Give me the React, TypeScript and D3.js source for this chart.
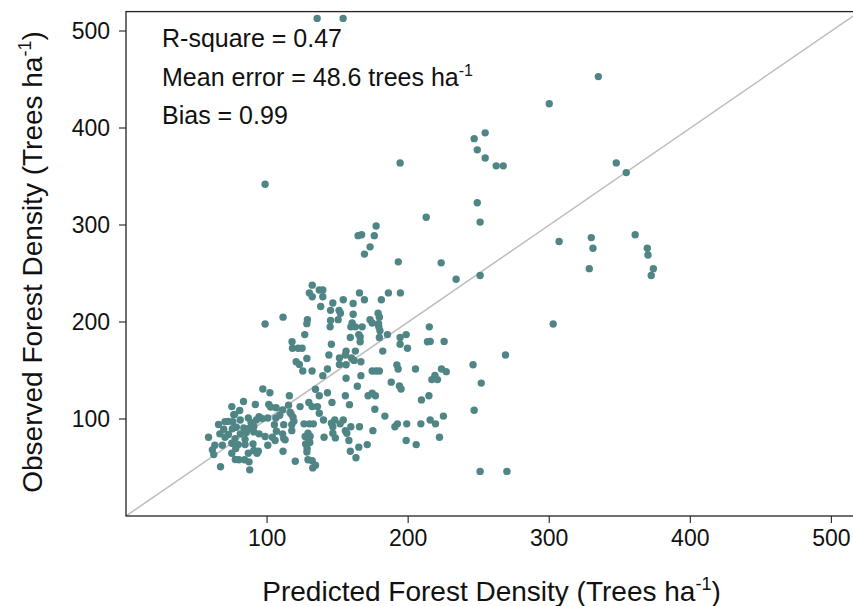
import React from "react";
import * as d3 from "d3";

// [predicted, observed] pairs (trees/ha)
const highPoints: [number, number][] = [
  [135.5, 513], [153.9, 513], [300, 425], [334.8, 453], [246.8, 389], [254.6, 395],
  [249, 377.5], [254.6, 369], [262.4, 361], [267.4, 361], [194.3, 364], [347.5, 364],
  [354.6, 354], [98.6, 342], [249, 323], [251, 303], [212.8, 308], [164.5, 289],
  [167, 290], [173, 277.5], [176, 289], [169, 270], [193, 262], [223.4, 261],
  [234, 244], [177.3, 299], [251, 248], [307, 283], [329.8, 287], [331, 276],
  [328.4, 255], [360.9, 290], [369.5, 276], [370, 269], [373.8, 255], [372.3, 248],
  [302.8, 198], [269, 166], [246.8, 109], [251.8, 137], [246, 156], [251, 46], [270, 46],
];

const midPoints: [number, number][] = [
  [132, 238], [130, 230], [137, 233], [139.5, 233], [132, 226], [139.5, 226], [165.5, 230],
  [186, 230], [194.5, 230], [154, 223], [169, 223], [181, 223], [146.6, 219.6], [161, 219],
  [138, 216], [145, 212], [151, 212], [152, 209], [161, 208], [178.7, 209], [179.6, 205],
  [111.3, 205], [98.6, 198], [145, 201.6], [150.4, 202.4], [173, 202.4], [128.6, 202.4],
  [128.2, 198.3], [160.3, 199], [174.5, 199], [179, 198.3], [144.7, 195], [159.4, 195],
  [162.6, 195], [167.4, 195], [179.2, 195], [180, 191], [126.7, 187], [165, 187],
  [185.3, 187], [198.6, 187], [215, 195], [215.6, 180], [225.5, 180], [159, 184],
  [166, 184.6], [179.6, 184], [194.3, 184], [166, 179.7], [213.7, 179.7], [194.3, 177],
  [117.7, 179.7], [145.6, 177], [118, 173], [122, 173], [124.8, 173], [156, 170],
  [162.6, 170], [182, 170], [199.5, 173], [155.5, 166], [143.8, 166], [128.2, 162.5],
  [151.3, 163], [159.8, 163], [161.7, 160.4], [166.5, 159], [120.6, 159], [122.9, 156.3],
  [151.3, 156.3], [156, 156], [192, 155.7], [192.9, 151.6], [125.3, 149.5], [131.9, 149.5],
  [142.8, 151.6], [174.5, 149.5], [177.3, 149.5], [179.6, 149.5], [205.2, 151.6],
  [223.6, 151.6], [227, 148.8], [219, 145], [220.8, 140.6], [216.8, 140.6], [139.5, 144.7],
  [156, 142], [166.5, 144.7], [188, 138], [193.8, 134], [195, 131],
];

const lowPoints: [number, number][] = [
  [164, 133.7], [134.3, 130.6], [142.8, 127], [137, 124], [155.5, 124], [171.6, 124],
  [174.5, 126.5], [176.8, 124], [209.4, 119.7], [214.7, 124], [129.6, 117], [131.9, 112.8],
  [135.7, 112.8], [123.4, 112.8], [146, 117], [158.4, 114.8], [176.4, 110], [183.5, 103],
  [225, 103], [140, 99], [148, 99], [154, 99], [126.2, 95], [130, 95], [132.8, 95],
  [145.6, 95.6], [146.6, 92], [151.8, 95], [159.4, 92], [165.5, 92], [192.4, 95],
  [190.6, 92], [199, 95], [209, 95], [215.6, 99], [219.4, 95], [175, 88], [155.5, 88],
  [156.5, 85.3], [129, 85.3], [130.5, 82.3], [140.4, 81.2], [146.6, 85.3], [148.4, 80.5],
  [129.6, 78.5], [158, 77.8], [222.2, 81.2], [127.7, 73.6], [198.6, 77.8], [205.7, 73.6],
  [171, 73.6], [165, 71], [128.2, 66], [159, 66.7], [129, 58], [132, 57], [163, 60],
  [134.3, 52.3], [132.4, 49.6],
];

const clusterPoints: [number, number][] = [
  [97, 131], [102, 127], [115.8, 124], [83.3, 118], [75, 112.8], [91.7, 115], [101.2, 115],
  [102.5, 112.3], [106.4, 111.7], [115.2, 114.3], [80.6, 108.7], [111, 109.4], [116.3, 107],
  [76.4, 104.5], [86.7, 101], [94.3, 102.5], [109, 103.8], [117, 105.3], [118.4, 101.8],
  [137, 106], [65.6, 94.4], [72.6, 97.6], [81, 99], [88.7, 96.3], [92.4, 99], [96.7, 100.4],
  [100.5, 101], [106.2, 101], [119, 97.6], [69.3, 89.4], [75.4, 90], [78.2, 91.5],
  [83.5, 90.8], [87.7, 90.8], [90.6, 92.2], [105.2, 94.2], [111.8, 94.2], [117.5, 94.2],
  [66.5, 84.7], [72.6, 84], [81, 84.7], [85.3, 86], [90.6, 86.7], [94.3, 84.7], [106.6, 87.3],
  [111, 84.7], [117.5, 88], [58.5, 81.2], [70.2, 81.2], [77.3, 79.8], [84.4, 79], [98.6, 82],
  [103.8, 81.2], [111.8, 79.8], [127, 82], [63, 73], [68.3, 73], [75, 75], [79.6, 73.6],
  [84.4, 73.6], [90, 74.4], [100.5, 73], [105.7, 77.8], [112.8, 78.5], [127.4, 74.4],
  [130.3, 75.7], [61.2, 68.2], [77.8, 69.5], [90.6, 67.5], [93.8, 66.7], [111.3, 66.7],
  [128.4, 69.5], [62.2, 63.3], [75, 64.7], [86.7, 64.7], [92.9, 64.7], [80, 58], [84, 58],
  [87.2, 55.8], [120, 56.4], [67, 50.8], [87.7, 47.6], [70.2, 97.3], [75.7, 97.3],
  [77, 104.8], [77.5, 58.2],
];

const xTicks = [100, 200, 300, 400, 500];
const yTicks = [100, 200, 300, 400, 500];
const axisDomain = [0, 520];
const statLines = ["R-square = 0.47", "Mean error = 48.6 trees ha", "Bias = 0.99"];

const FONT = "'Liberation Sans', Arial, Helvetica, sans-serif";
const DOT = "#508585";

export default function App() {
  const W = 853;
  const H = 606;
  const x = d3.scaleLinear().domain(axisDomain).range([126, 859.6]);
  const y = d3.scaleLinear().domain(axisDomain).range([516, 11.6]);
  const all = [...highPoints, ...midPoints, ...lowPoints, ...clusterPoints];
  const x0 = x(axisDomain[0]);
  const x1 = x(axisDomain[1]);
  const y0 = y(axisDomain[0]);
  const y1 = y(axisDomain[1]);

  return (
    <svg
      width={W}
      height={H}
      style={{ position: "absolute", left: 0, top: 0, background: "#fff" }}
      fontFamily={FONT}
    >
      <defs>
        <clipPath id="plot">
          <rect x={x0} y={y1} width={x1 - x0} height={y0 - y1} />
        </clipPath>
      </defs>
      <rect x={0} y={0} width={W} height={H} fill="#fff" />
      <g clipPath="url(#plot)">
        <line x1={x(0)} y1={y(0)} x2={x(520)} y2={y(520)} stroke="#bdbdbd" strokeWidth={1.5} />
        {all.map((d, i) => (
          <circle key={i} cx={x(d[0])} cy={y(d[1])} r={3.7} fill={DOT} />
        ))}
      </g>
      <rect x={x0} y={y1} width={x1 - x0} height={y0 - y1} fill="none" stroke="#222" strokeWidth={1.3} />
      {yTicks.map((t) => (
        <g key={"y" + t}>
          <line x1={x0 - 7} x2={x0} y1={y(t)} y2={y(t)} stroke="#222" strokeWidth={1.1} />
          <text x={x0 - 16} y={y(t)} dy="0.36em" textAnchor="end" fontSize={23} fill="#111">
            {t}
          </text>
        </g>
      ))}
      {xTicks.map((t) => (
        <g key={"x" + t}>
          <line x1={x(t)} x2={x(t)} y1={y0} y2={y0 + 7} stroke="#222" strokeWidth={1.1} />
          <text x={x(t)} y={546} textAnchor="middle" fontSize={23} fill="#111">
            {t}
          </text>
        </g>
      ))}
      <text x={162} y={47} fontSize={25} fill="#111">{statLines[0]}</text>
      <text x={162} y={85.5} fontSize={25} fill="#111">
        {statLines[1]}
        <tspan dy={-10} fontSize={16}>-1</tspan>
      </text>
      <text x={162} y={124} fontSize={25} fill="#111">{statLines[2]}</text>
      <text x={491.5} y={601} textAnchor="middle" fontSize={28} fill="#111">
        Predicted Forest Density (Trees ha
        <tspan dy={-11} fontSize={18}>-1</tspan>
        <tspan dy={11}>)</tspan>
      </text>
      <text
        transform={`translate(42,262) rotate(-90)`}
        textAnchor="middle"
        fontSize={28}
        fill="#111"
      >
        Observed Forest Density (Trees ha
        <tspan dy={-11} fontSize={18}>-1</tspan>
        <tspan dy={11}>)</tspan>
      </text>
    </svg>
  );
}
